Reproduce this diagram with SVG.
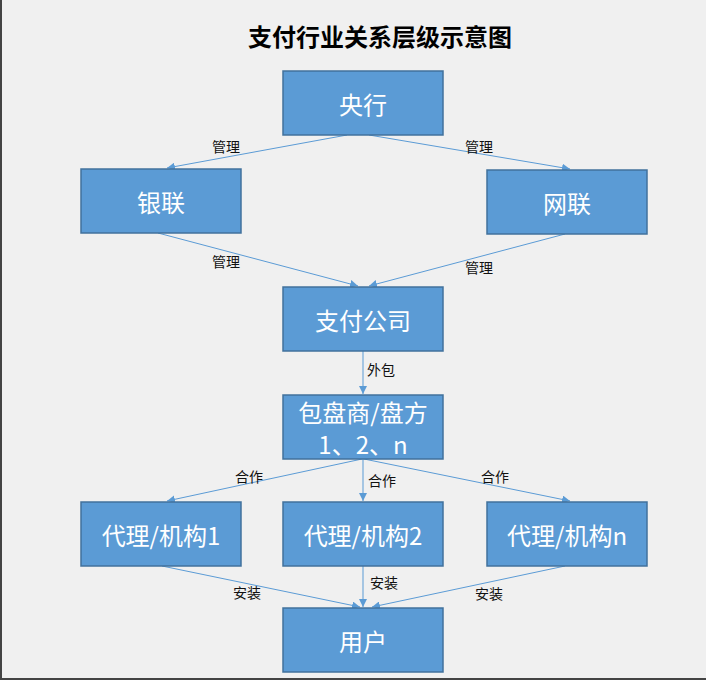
<svg xmlns="http://www.w3.org/2000/svg" width="706" height="680" viewBox="0 0 706 680">
<style>
.n rect{fill:#5b9bd5;stroke:#41719c;stroke-width:1.5}
.n text{fill:#fff;font-family:"Noto Sans CJK SC",sans-serif;font-size:24px;text-anchor:middle;dominant-baseline:central}
.e line{stroke:#5b9bd5;stroke-width:1;marker-end:url(#a)}
.l{font-family:"Noto Sans CJK SC",sans-serif;font-size:14px;fill:#111;text-anchor:middle;dominant-baseline:central}
</style>
<defs><marker id="a" viewBox="0 0 10 10" refX="10" refY="5" markerWidth="8" markerHeight="8" orient="auto" markerUnits="userSpaceOnUse"><path d="M0,0L10,5L0,10z" fill="#5b9bd5"/></marker></defs>
<rect width="706" height="680" fill="#f0f0f0"/>
<line x1="1" y1="0" x2="1" y2="680" stroke="#444" stroke-width="2"/>
<line x1="0" y1="679" x2="706" y2="679" stroke="#444" stroke-width="2"/>
<text x="380" y="35" font-family="Noto Sans CJK SC,sans-serif" font-size="24" font-weight="bold" text-anchor="middle" dominant-baseline="central" fill="#000">支付行业关系层级示意图</text>
<g class="e">
<line x1="347" y1="135" x2="167" y2="168"/>
<line x1="369" y1="135" x2="570" y2="169"/>
<line x1="158" y1="233" x2="358" y2="286"/>
<line x1="565" y1="234" x2="369" y2="286"/>
<line x1="363" y1="351" x2="363" y2="394"/>
<line x1="362" y1="459" x2="167" y2="501"/>
<line x1="363" y1="459" x2="363" y2="501"/>
<line x1="364" y1="459" x2="570" y2="501"/>
<line x1="162" y1="566" x2="360" y2="607"/>
<line x1="363" y1="566" x2="363" y2="607"/>
<line x1="565" y1="566" x2="372" y2="607"/>
</g>
<g>
<text class="l" x="226" y="146">管理</text>
<text class="l" x="479" y="146">管理</text>
<text class="l" x="226" y="261">管理</text>
<text class="l" x="479" y="267">管理</text>
<text class="l" x="381" y="369">外包</text>
<text class="l" x="249" y="476">合作</text>
<text class="l" x="382" y="480">合作</text>
<text class="l" x="495" y="476">合作</text>
<text class="l" x="247" y="592">安装</text>
<text class="l" x="384" y="582">安装</text>
<text class="l" x="489" y="593">安装</text>
</g>
<g id="yanghang" class="n"><rect x="283" y="71" width="160" height="64"/><text x="363" y="103">央行</text></g>
<g id="yinlian" class="n"><rect x="81" y="169" width="160" height="64"/><text x="161" y="201">银联</text></g>
<g id="wanglian" class="n"><rect x="487" y="170" width="160" height="64"/><text x="567" y="202">网联</text></g>
<g id="zhifu" class="n"><rect x="283" y="287" width="160" height="64"/><text x="363" y="319">支付公司</text></g>
<g id="baopan" class="n"><rect x="283" y="395" width="160" height="64"/><text x="363" y="411">包盘商/盘方</text><text x="363" y="443">1、2、n</text></g>
<g id="agent1" class="n"><rect x="81" y="502" width="160" height="64"/><text x="161" y="534">代理/机构1</text></g>
<g id="agent2" class="n"><rect x="283" y="502" width="160" height="64"/><text x="363" y="534">代理/机构2</text></g>
<g id="agentn" class="n"><rect x="487" y="502" width="160" height="64"/><text x="567" y="534">代理/机构n</text></g>
<g id="user" class="n"><rect x="283" y="608" width="160" height="64"/><text x="363" y="640">用户</text></g>
</svg>
